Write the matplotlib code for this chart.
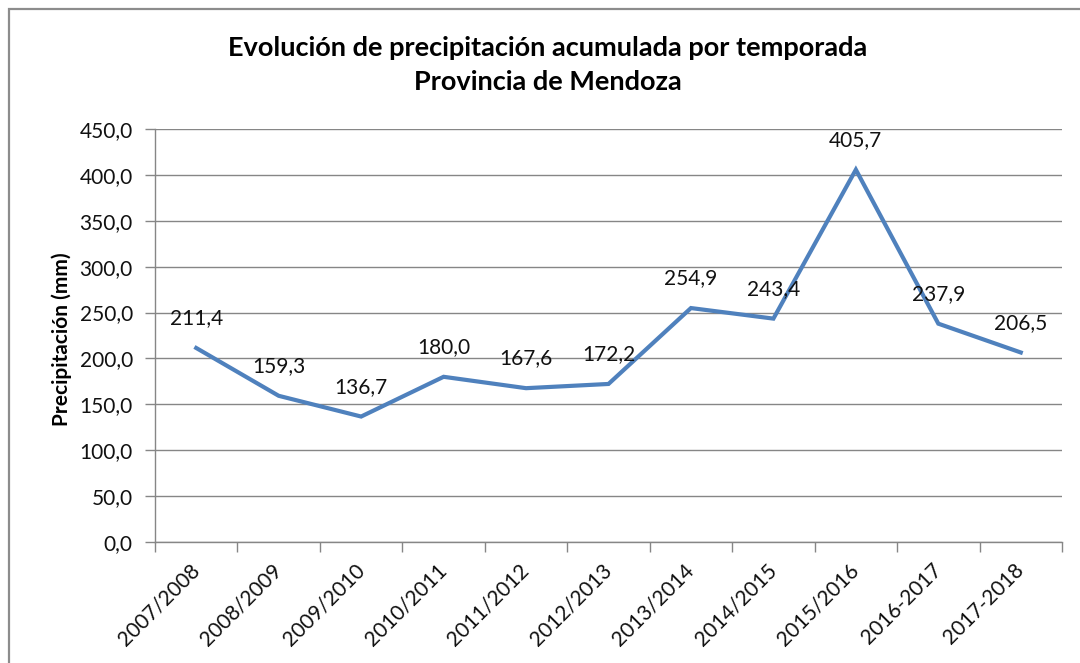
import matplotlib
matplotlib.use("Agg")
import matplotlib.pyplot as plt
from matplotlib.patches import Rectangle
from matplotlib.ticker import FuncFormatter, MultipleLocator

# Datos de precipitación acumulada por temporada
temporadas = ['2007/2008', '2008/2009', '2009/2010', '2010/2011', '2011/2012',
              '2012/2013', '2013/2014', '2014/2015', '2015/2016', '2016-2017',
              '2017-2018']
precipitacion = [211.4, 159.3, 136.7, 180.0, 167.6, 172.2, 254.9, 243.4,
                 405.7, 237.9, 206.5]

plt.rcParams['font.family'] = ['Lato', 'DejaVu Sans']

gris = '#868686'
fig = plt.figure(figsize=(10.8, 6.63), dpi=100)
ax = fig.add_axes([155 / 1080, 1 - 542 / 663, (1062 - 155) / 1080, (542 - 129) / 663])

# Marco del gráfico
fig.patches.append(Rectangle((9 / 1080, -0.05), 1.2, 1 - 9 / 663 + 0.05,
                             transform=fig.transFigure, fill=False,
                             edgecolor='#8c8c8c', linewidth=1.6))

x = list(range(len(temporadas)))
ax.plot(x, precipitacion, color='#4F81BD', linewidth=3.0, solid_joinstyle='miter')

for xi, v in zip(x, precipitacion):
    ax.annotate(f'{v:.1f}'.replace('.', ','), (xi, v), xytext=(0, 21.5),
                textcoords='offset points', ha='center', va='center',
                fontsize=15, color='#111111')

ax.set_xlim(-0.5, len(temporadas) - 0.5)
ax.set_ylim(0, 450)
ax.yaxis.set_major_locator(MultipleLocator(50))
ax.yaxis.set_major_formatter(FuncFormatter(lambda v, p: f'{v:.1f}'.replace('.', ',')))
ax.grid(axis='y', color=gris, linewidth=1.0)
ax.set_axisbelow(True)

ax.set_xticks(x)
ax.set_xticklabels(temporadas, rotation=45, ha='right', va='center',
                   rotation_mode='anchor', fontsize=15, color='#111111')
ax.tick_params(axis='x', which='major', length=0, pad=18)
ax.set_xticks([i - 0.5 for i in range(len(temporadas) + 1)], minor=True)
ax.tick_params(axis='x', which='minor', length=7, color=gris, width=1.0)
ax.tick_params(axis='y', length=7, color=gris, width=1.0, labelsize=15,
               labelcolor='#111111', pad=9)

for lado in ['top', 'right']:
    ax.spines[lado].set_visible(False)
for lado in ['left', 'bottom']:
    ax.spines[lado].set_color(gris)
    ax.spines[lado].set_linewidth(1.0)

ax.set_ylabel('Precipitación (mm)', fontsize=15, fontweight='bold')
ax.yaxis.set_label_coords(-0.092, 0.49)
fig.text(548 / 1080, 1 - 65 / 663,
         'Evolución de precipitación acumulada por temporada\nProvincia de Mendoza',
         ha='center', va='center', fontsize=19.5, fontweight='bold',
         linespacing=1.55)

fig.savefig('out.png', dpi=100)
